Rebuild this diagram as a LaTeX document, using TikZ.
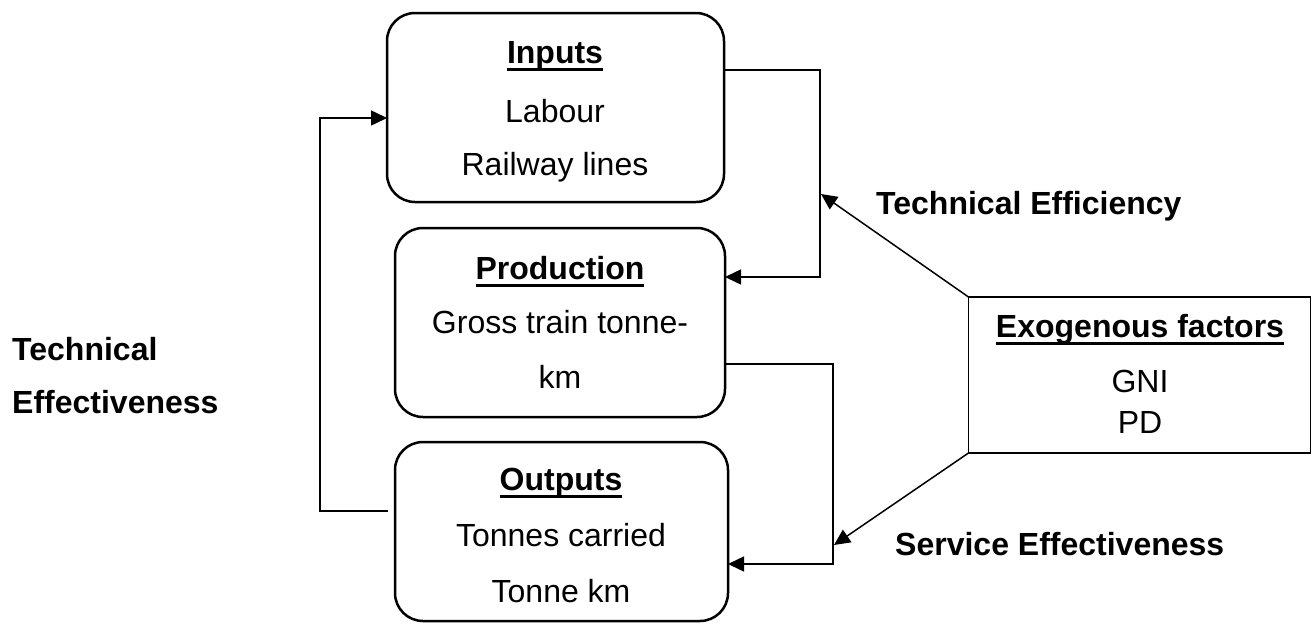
\documentclass[tikz,border=0pt]{standalone}
\usepackage{fontspec}
\setmainfont{Liberation Sans}
\usetikzlibrary{arrows.meta}

% bold title with a heavy underline
\newcommand{\boxtitle}[1]{\setbox0\hbox{\bfseries #1}\rlap{\raisebox{-8pt}{\rule{\wd0}{3pt}}}\box0}

\begin{document}
\begin{tikzpicture}[x=1pt,y=-1pt,
  rbox/.style={draw, line width=2.5pt, rounded corners=28pt, outer sep=0pt, inner sep=0pt},
  fbox/.style={draw, line width=1.8pt, outer sep=0pt, inner sep=0pt},
  txt/.style={anchor=base, inner sep=0pt, font=\fontsize{32}{38}\selectfont},
  btxt/.style={txt, font=\fontsize{32}{38}\selectfont\bfseries},
  conn/.style={line width=1.5pt},
  tip/.style={-{Triangle[length=16pt,width=15pt]}}]

\useasboundingbox (0,0) rectangle (1312,624);

% boxes
\node[rbox, minimum width=337pt, minimum height=189pt] (inputs) at (555.5,107.5) {};
\node[rbox, minimum width=330pt, minimum height=189pt] (production) at (560,322.5) {};
\node[rbox, minimum width=333pt, minimum height=179pt] (outputs) at (561.5,531.5) {};
\node[fbox, minimum width=342pt, minimum height=156pt] (exo) at (1139.5,375) {};

% box contents
\node[txt] (in1) at (555,63) {\boxtitle{Inputs}};
\node[txt] (in2) at (555,122) {Labour};
\node[txt] (in3) at (555,175) {Railway lines};

\node[txt] (pr1) at (560,279) {\boxtitle{Production}};
\node[txt] (pr2) at (560,333) {Gross train tonne-};
\node[txt] (pr3) at (560,388) {km};

\node[txt] (ou1) at (561,490) {\boxtitle{Outputs}};
\node[txt] (ou2) at (561,546) {Tonnes carried};
\node[txt] (ou3) at (561,602) {Tonne km};

\node[txt] (ex1) at (1140,337) {\boxtitle{Exogenous factors}};
\node[txt] (ex2) at (1140,392) {GNI};
\node[txt] (ex3) at (1140,433) {PD};

% labels
\node[btxt, anchor=base west] (teff) at (876,214) {Technical Efficiency};
\node[btxt, anchor=base west] (seff) at (895,555) {Service Effectiveness};
\node[btxt, anchor=base west] (tec1) at (12,360) {Technical};
\node[btxt, anchor=base west] (tec2) at (12,413) {Effectiveness};

% connector junctions
\coordinate (ja) at (820,70);
\coordinate (jb) at (820,277);
\coordinate (ta) at (821,194);
\coordinate (jc) at (833,364);
\coordinate (jd) at (833,564);
\coordinate (sa) at (834,545);
\coordinate (ka) at (320,511);
\coordinate (kb) at (320,118);

% inputs -> production
\draw[conn, tip] (inputs.east |- ja) -- (ja) -- (jb) -- (production.east |- jb);
% production -> outputs
\draw[conn, tip] (production.east |- jc) -- (jc) -- (jd) -- (outputs.east |- jd);
% outputs feed back to inputs
\draw[conn, tip, shorten <=7pt] (outputs.west |- ka) -- (ka) -- (kb) -- (inputs.west |- kb);
% exogenous factors
\draw[conn, tip] (exo.north west) -- (ta);
\draw[conn, tip] (exo.south west) -- (sa);
\end{tikzpicture}
\end{document}
